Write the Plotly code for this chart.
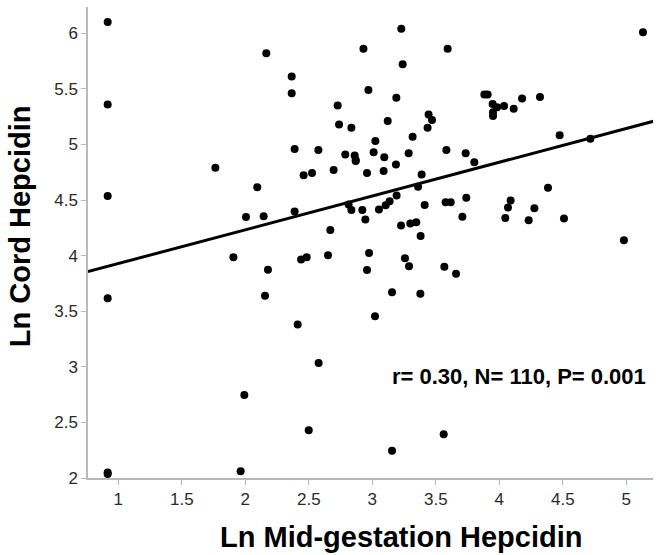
import plotly.graph_objects as go

# Ln Mid-gestation Hepcidin (x) and Ln Cord Hepcidin (y)
mid_hepcidin = [
    0.916, 2.165, 0.916, 1.764,
    3.228, 2.930, 3.593, 3.239, 2.365, 2.365, 2.969, 3.189, 2.727, 2.738,
    2.835, 3.121, 3.443, 3.470, 3.435, 3.317, 3.024, 2.388, 2.575, 2.787,
    2.861, 2.869, 3.010, 3.094, 3.186, 3.286, 3.583, 3.735, 3.803, 2.695,
    3.089, 2.459, 2.525, 2.958, 3.388, 3.360, 2.388, 2.813, 2.835, 2.921,
    3.191, 3.136, 3.105, 3.052, 2.945, 3.412, 3.577, 3.617, 3.740, 3.709,
    2.669, 3.226, 3.299, 3.346, 3.380, 2.439, 2.483, 2.651, 2.974, 2.958,
    3.257, 3.289, 3.567, 3.659, 3.155, 3.378, 3.021, 2.412,
    5.131, 3.882, 3.908, 3.947, 3.982, 4.037, 3.950, 3.950, 4.113, 4.179,
    4.320, 4.475, 4.717,
    4.383, 4.089, 4.068, 4.276, 4.047, 4.231, 4.509, 4.981,
    2.094, 0.916, 2.005, 2.144, 1.906, 2.178, 0.916, 2.155,
    1.992, 0.916, 0.916, 1.963,
    2.577, 2.499, 3.155, 3.562, 2.869,
]
cord_hepcidin = [
    6.100, 5.820, 5.360, 4.790,
    6.040, 5.860, 5.860, 5.720, 5.610, 5.460, 5.490, 5.420, 5.350, 5.180,
    5.150, 5.210, 5.270, 5.220, 5.150, 5.070, 5.030, 4.960, 4.950, 4.910,
    4.900, 4.850, 4.930, 4.885, 4.820, 4.920, 4.950, 4.920, 4.840, 4.770,
    4.760, 4.723, 4.744, 4.744, 4.730, 4.620, 4.396, 4.460, 4.410, 4.410,
    4.540, 4.490, 4.453, 4.414, 4.324, 4.456, 4.480, 4.480, 4.520, 4.350,
    4.231, 4.270, 4.288, 4.300, 4.177, 3.964, 3.986, 4.004, 4.024, 3.871,
    3.977, 3.905, 3.900, 3.838, 3.671, 3.656, 3.455, 3.380,
    6.010, 5.448, 5.448, 5.364, 5.335, 5.346, 5.290, 5.255, 5.322, 5.412,
    5.427, 5.083, 5.050,
    4.610, 4.495, 4.432, 4.426, 4.339, 4.318, 4.333, 4.138,
    4.615, 4.537, 4.348, 4.354, 3.986, 3.874, 3.617, 3.640,
    2.747, 2.050, 2.036, 2.061,
    3.035, 2.430, 2.246, 2.394, 4.860,
]

# Fitted regression line
fit_intercept = 3.625
fit_slope = 0.3037
fit_x = [0.76, 5.25]
fit_y = [fit_intercept + fit_slope * v for v in fit_x]

x_ticks = [1, 1.5, 2, 2.5, 3, 3.5, 4, 4.5, 5]
y_ticks = [2, 2.5, 3, 3.5, 4, 4.5, 5, 5.5, 6]
stats_text = "r= 0.30, N= 110, P= 0.001"

tick_font = dict(family="Liberation Sans Narrow, Arial Narrow, Liberation Sans, Arial, sans-serif",
                 size=17, color="#2a2a2a")
bold_font = "Liberation Sans, Arial, sans-serif"

fig = go.Figure()
fig.add_trace(go.Scatter(
    x=fit_x, y=fit_y, mode="lines",
    line=dict(color="black", width=3), cliponaxis=False,
    showlegend=False, hoverinfo="skip",
))
fig.add_trace(go.Scatter(
    x=mid_hepcidin, y=cord_hepcidin, mode="markers",
    marker=dict(color="black", size=8, line=dict(width=0)),
    showlegend=False,
))

axis_common = dict(
    showgrid=False, zeroline=False, showline=True, linecolor="#b8b8b8", linewidth=1.5,
    ticks="outside", ticklen=5, tickwidth=1, tickcolor="#b8b8b8",
    tickfont=tick_font,
)
fig.update_xaxes(range=[0.761, 5.21], tickvals=x_ticks,
                 ticktext=[f"{v:g}" for v in x_ticks], **axis_common)
fig.update_yaxes(range=[2, 6.236], tickvals=y_ticks,
                 ticktext=[f"{v:g}" for v in y_ticks], **axis_common)

fig.add_annotation(x=4.157, y=2.912, xref="x", yref="y", text=stats_text, showarrow=False,
                   font=dict(family=bold_font, size=22, color="black", weight="bold"),
                   xanchor="center", yanchor="middle")
fig.add_annotation(x=0.554, y=-0.125, xref="paper", yref="paper",
                   text="Ln Mid-gestation Hepcidin", showarrow=False,
                   font=dict(family=bold_font, size=29, color="black", weight="bold"),
                   xanchor="center", yanchor="middle")
fig.add_annotation(x=-0.120, y=0.535, xref="paper", yref="paper",
                   text="Ln Cord Hepcidin", showarrow=False, textangle=-90,
                   font=dict(family=bold_font, size=29, color="black", weight="bold"),
                   xanchor="center", yanchor="middle")

fig.update_layout(
    width=660, height=555,
    margin=dict(l=88, r=7, t=7, b=77),
    paper_bgcolor="white", plot_bgcolor="white",
)

fig.write_html("out.html", config={"displayModeBar": False},
               post_script="document.body.style.margin='0';document.body.style.overflow='hidden';")
